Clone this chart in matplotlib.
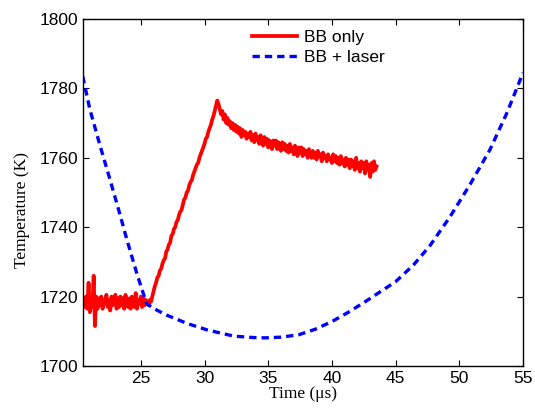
import numpy as np
import matplotlib
matplotlib.use("Agg")
import matplotlib.pyplot as plt

bb_start, bb_end = 20.5, 43.5
bb_temp = [
    1718.5, 1717, 1720, 1716.5, 1724, 1715.5, 1719, 1717, 1726, 1711.5,
    1720, 1716.5, 1719.5, 1717.5, 1720, 1716.5, 1719, 1718, 1720.5, 1717,
    1719, 1716, 1720, 1717.5, 1718.5, 1720.5, 1716.5, 1719.5, 1717, 1720,
    1717.5, 1719.5, 1716.5, 1720.5, 1718, 1717, 1719.5, 1716.5, 1720, 1718,
    1717, 1721, 1716.5, 1719, 1718, 1720, 1717, 1719.5, 1717.5, 1719,
    1718, 1717.5, 1719, 1718.5, 1720, 1721.5, 1723, 1724, 1725.5, 1726,
    1727.5, 1728, 1729.5, 1730.5, 1731, 1733, 1733.5, 1735, 1735.5, 1737.5,
    1738, 1739.5, 1740, 1741.5, 1742, 1743.5, 1744.5, 1745, 1746.5, 1748,
    1748.5, 1750, 1750.5, 1752, 1753, 1753.5, 1755, 1756, 1757, 1758,
    1758.5, 1760, 1761, 1762, 1763, 1764, 1765.5, 1766, 1767.5, 1768.5,
    1769.5, 1771, 1772, 1773.5, 1775, 1776.5, 1775.5, 1774, 1772.5, 1773.5,
    1771, 1772.5, 1770, 1771.5, 1769.5, 1770.5, 1768.5, 1770, 1768, 1769.5,
    1767.5, 1769, 1767, 1768.5, 1766, 1768, 1766.5, 1767.5, 1765.5, 1767,
    1766, 1767.5, 1765, 1766.5, 1764.5, 1767, 1765, 1766, 1764, 1766.5,
    1765, 1763.5, 1766, 1764, 1765.5, 1763, 1765, 1764, 1762.5, 1765,
    1763.5, 1765, 1762.5, 1764.5, 1763, 1762, 1764.5, 1762.5, 1764, 1762,
    1763.5, 1761.5, 1764, 1762, 1763, 1761, 1763.5, 1762, 1760.5, 1763,
    1761.5, 1763, 1760.5, 1762.5, 1761, 1762, 1760, 1762.5, 1761, 1760,
    1762, 1760, 1761.5, 1759.5, 1762, 1760.5, 1761, 1759, 1761.5, 1760,
    1760.5, 1759, 1761, 1759.5, 1760, 1758.5, 1761, 1759, 1760.5, 1758.5,
    1760, 1758, 1760.5, 1758.5, 1759.5, 1757.5, 1760, 1758, 1759.5, 1757,
    1759.5, 1757.5, 1759, 1756.5, 1760, 1757, 1758.5, 1756, 1759, 1757,
    1758.5, 1755.5, 1759, 1756.5, 1758, 1754.5, 1758.5, 1756, 1759, 1756.5,
    1757.5,
]
bb_time = np.linspace(bb_start, bb_end, len(bb_temp))

# BB + laser
laser_time = [20.44, 21.0, 21.8, 22.6, 23.3, 23.9, 24.7, 25.45, 26.0, 27.0,
              28.6, 30.2, 32.3, 33.8, 34.75, 36.0, 37.4, 38.7, 40.0, 41.3,
              42.6, 45.0, 46.4, 47.7, 49.27, 50.84, 52.4, 53.72, 55.0]
laser_temp = [1783.5, 1774, 1763.5, 1753.5, 1744.5, 1736.5, 1726.5, 1718, 1716.6, 1714.7,
              1712.3, 1710.4, 1708.6, 1708.2, 1708.1, 1708.3, 1709.0, 1710.6, 1712.8, 1715.5,
              1718.5, 1724.3, 1729.1, 1734.7, 1743.0, 1752.3, 1762.3, 1772.8, 1784.5]

xticks = [25, 30, 35, 40, 45, 50, 55]
yticks = [1700, 1720, 1740, 1760, 1780, 1800]

plt.rcParams['font.family'] = ['Liberation Sans', 'DejaVu Sans']
serif = ['Liberation Serif', 'DejaVu Serif']

fig = plt.figure(figsize=(5.35, 4.08), dpi=100)
ax = fig.add_axes([0.1546, 0.103, 0.823, 0.8504])

ax.plot(bb_time, bb_temp, color='#ff0000', lw=2.7, label='BB only')
ax.plot(laser_time, laser_temp, color='#0000ff', lw=2.4, dashes=(2.2, 1.5),
        label='BB + laser')

ax.set_xlim(20.44, 55)
ax.set_ylim(1700, 1800)
ax.set_xticks(xticks)
ax.set_yticks(yticks)
ax.tick_params(direction='in', top=True, right=True, labelsize=12.5, length=4)
for s in ax.spines.values():
    s.set_linewidth(1.0)

ax.set_xlabel('Time (μs)', family=serif, fontsize=12.5, labelpad=0)
ax.set_ylabel('Temperature (K)', family=serif, fontsize=12.5, labelpad=4)
ax.yaxis.set_label_coords(-0.12, 0.45)

ax.legend(loc='upper center', bbox_to_anchor=(0.535, 1.0), frameon=False,
          fontsize=12.5, handlelength=2.6, handletextpad=0.35, labelspacing=0.3,
          borderaxespad=0.2)

fig.savefig('out.png', dpi=100)
